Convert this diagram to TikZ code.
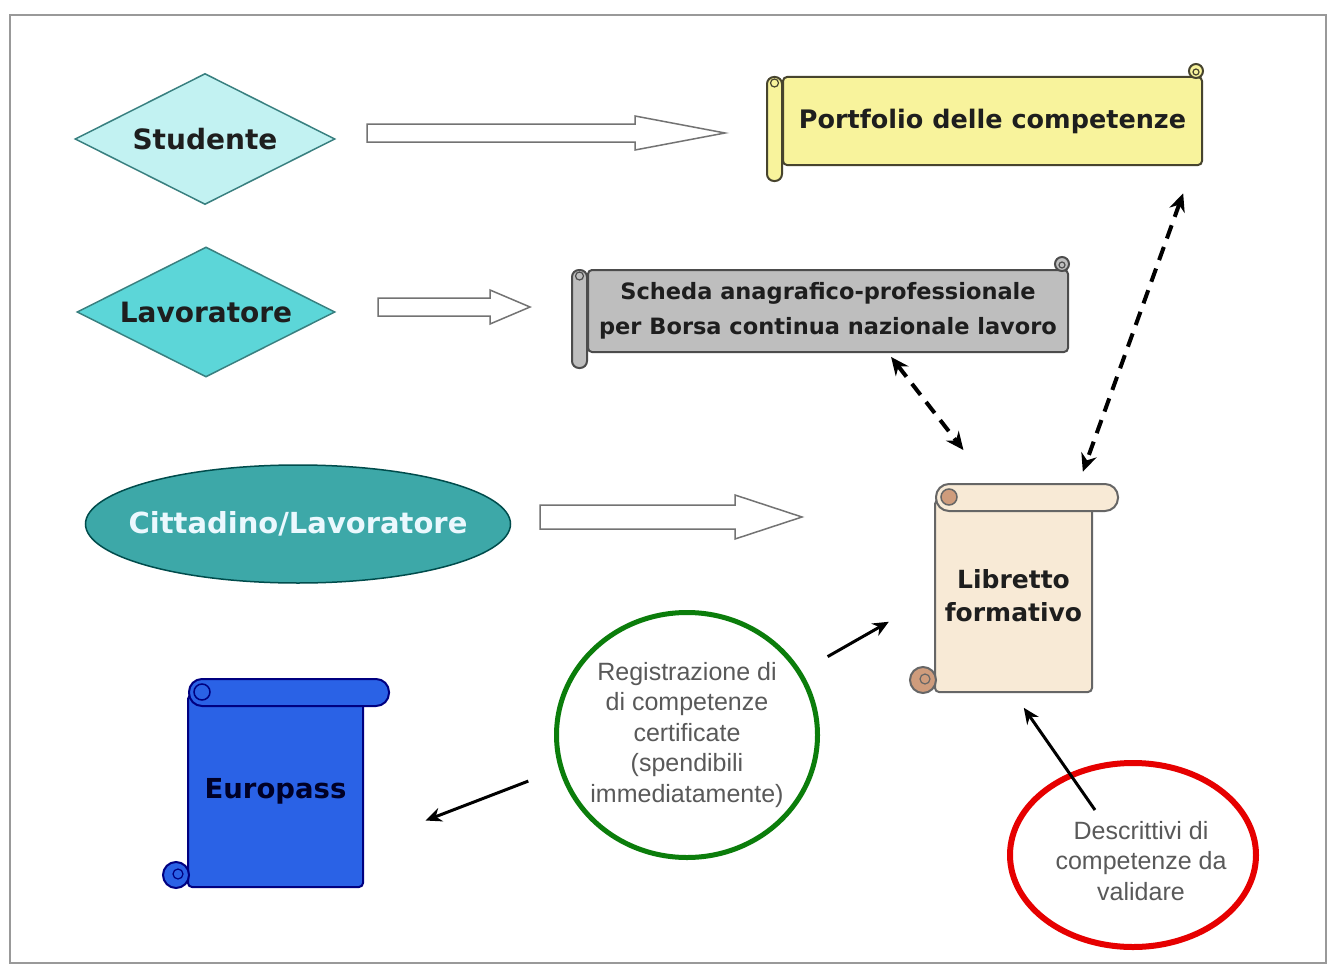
\documentclass[tikz,border=0pt]{standalone}
\usepackage{fontspec}
\setmainfont{DejaVu Sans}
\newfontfamily\notefont{Liberation Sans}
\usetikzlibrary{shapes.geometric,arrows.meta}

\definecolor{studcyan}{HTML}{C2F2F2}
\definecolor{lavcyan}{HTML}{5CD6D8}
\definecolor{cittteal}{HTML}{3DA8A8}
\definecolor{portyellow}{HTML}{F8F39C}
\definecolor{schedagray}{HTML}{BEBEBE}
\definecolor{librbeige}{HTML}{F8EAD6}
\definecolor{librcurl}{HTML}{CF9C7C}
\definecolor{europblue}{HTML}{2A62E6}
\definecolor{regreen}{HTML}{0B7D0B}
\definecolor{descred}{HTML}{E60000}
\definecolor{inkdark}{HTML}{1E1E1E}

% rolled ends of a horizontal scroll: node, fill, border
\newcommand\hrolls[3]{%
  \draw[draw=#3, fill=#2, line width=2pt, rounded corners=7pt]
    ([xshift=-15pt,yshift=-1pt]#1.north west) rectangle ([yshift=-15pt]#1.south west);
  \draw[draw=#3, line width=1.2pt] ([xshift=-7.5pt,yshift=-7pt]#1.north west) circle (4pt);
  \draw[draw=#3, fill=#2, line width=2pt] ([xshift=-7pt,yshift=5pt]#1.north east) circle (7pt);
  \draw[draw=#3, line width=1.2pt] ([xshift=-7pt,yshift=4pt]#1.north east) circle (3pt);
}
% rolled ends of a vertical scroll: node, fill, border, curl
\newcommand\vrolls[4]{%
  \draw[draw=#3, fill=#2, line width=2pt, rounded corners=13pt]
    ([xshift=2pt,yshift=15pt]#1.north west) rectangle ([xshift=25pt,yshift=-12pt]#1.north east);
  \draw[draw=#3, fill=#4, line width=1.5pt] ([xshift=15pt,yshift=2pt]#1.north west) circle (8pt);
  \draw[draw=#3, fill=#4, line width=2pt] ([xshift=-11pt,yshift=13pt]#1.south west) circle (13pt);
  \draw[draw=#3, line width=1.2pt] ([xshift=-9pt,yshift=14pt]#1.south west) circle (5pt);
}
% hollow block arrow: x start, head start, tip, y, shaft half, head half
\newcommand\fatarrow[6]{%
  \draw[fatarrow] (#1,#4-#5) -- (#2,#4-#5) -- (#2,#4-#6) -- (#3,#4)
    -- (#2,#4+#6) -- (#2,#4+#5) -- (#1,#4+#5) -- cycle;
}

\tikzset{
  actor/.style={diamond, aspect=2, fill=#1, draw=teal!55!gray, line width=1.5pt,
    inner sep=0pt, text=inkdark, font=\fontsize{28}{34}\selectfont\bfseries},
  scroll/.style 2 args={rectangle, fill=#1, draw=#2, line width=2pt, rounded corners=4pt,
    inner sep=0pt, align=center, text=inkdark},
  notelabel/.style={align=center, text=black!65, font=\notefont\fontsize{25}{30.5}\selectfont},
  fatarrow/.style={draw=black!55, line width=1.5pt, fill=white},
  dasharrow/.style={line width=4pt, dash pattern=on 14pt off 9pt,
    {Stealth[length=18pt,width=16pt]}-{Stealth[length=18pt,width=16pt]}},
  solidarrow/.style={line width=3pt, -{Stealth[length=16pt,width=14pt]}},
}

\begin{document}
\begin{tikzpicture}[x=1pt, y=-1pt]
  \useasboundingbox[fill=white] (0,0) rectangle (1336,966);
  \draw[black!40, line width=2pt] (10,15) rectangle (1326,963);

  % who
  \node[actor=studcyan, minimum width=260pt, minimum height=131pt] (studente) at (205,139) {Studente};
  \node[actor=lavcyan, minimum width=258pt, minimum height=130pt] (lavoratore) at (206,312) {Lavoratore};
  \node[ellipse, fill=cittteal, draw=teal!60!black, line width=1.5pt,
    minimum width=425pt, minimum height=118pt,
    label={[text=cyan!8, font=\fontsize{29}{34}\selectfont\bfseries]center:Cittadino/Lavoratore}]
    (cittadino) at (298,524) {};

  \fatarrow{367}{635}{725}{133}{9}{17}
  \fatarrow{378}{490}{530}{307}{9}{17}
  \fatarrow{540}{735}{802}{517}{12}{22}

  % documents
  \node[scroll={portyellow}{black!65!olive}, minimum width=419pt, minimum height=88pt,
    font=\fontsize{25.5}{30}\selectfont\bfseries] (portfolio) at (992.5,121) {\raisebox{-4pt}{Portfolio delle competenze}};
  \hrolls{portfolio}{portyellow}{black!65!olive}

  \node[scroll={schedagray}{black!70}, minimum width=480pt, minimum height=82pt,
    font=\fontsize{22.5}{35}\selectfont\bfseries] (scheda) at (828,311)
    {Scheda anagrafico-professionale\\per Borsa continua nazionale lavoro};
  \hrolls{scheda}{schedagray}{black!70}

  \node[scroll={librbeige}{black!60}, minimum width=157pt, minimum height=192pt,
    font=\fontsize{25}{33}\selectfont\bfseries] (libretto) at (1013.5,596) {Libretto\\formativo};
  \vrolls{libretto}{librbeige}{black!60}{librcurl}

  \node[scroll={europblue}{blue!50!black}, minimum width=175pt, minimum height=192pt,
    text=blue!15!black, font=\fontsize{27.5}{33}\selectfont\bfseries] (europass) at (275.5,791) {Europass};
  \vrolls{europass}{europblue}{blue!50!black}{europblue}

  % notes
  \node[ellipse, draw=regreen, line width=5pt, minimum width=261pt, minimum height=245pt,
    label={[notelabel]center:Registrazione di\\di competenze\\certificate\\(spendibili\\immediatamente)}]
    (registrazione) at (687,735) {};
  \node[ellipse, draw=descred, line width=6pt, minimum width=246pt, minimum height=184pt,
    label={[notelabel, xshift=8pt, yshift=-6pt]center:Descrittivi di\\competenze da\\validare}]
    (descrittivi) at (1133,855) {};

  % links
  \draw[dasharrow, shorten <=5pt, shorten >=62pt] ([xshift=60pt]scheda.south) -- ([xshift=-12pt]libretto.north);
  \draw[dasharrow, shorten <=29pt, shorten >=29pt] ([xshift=-10pt]portfolio.south east) -- ([xshift=-20pt]libretto.north east);
  \draw[solidarrow, shorten <=30pt, shorten >=52pt] (registrazione.29) -- (libretto.west);
  \draw[solidarrow, shorten <=33pt, shorten >=66pt] (registrazione.195) -- (europass.-31);
  \draw[solidarrow, shorten >=18pt] ([xshift=-38pt,yshift=45pt]descrittivi.center) -- (libretto.south);
\end{tikzpicture}
\end{document}
